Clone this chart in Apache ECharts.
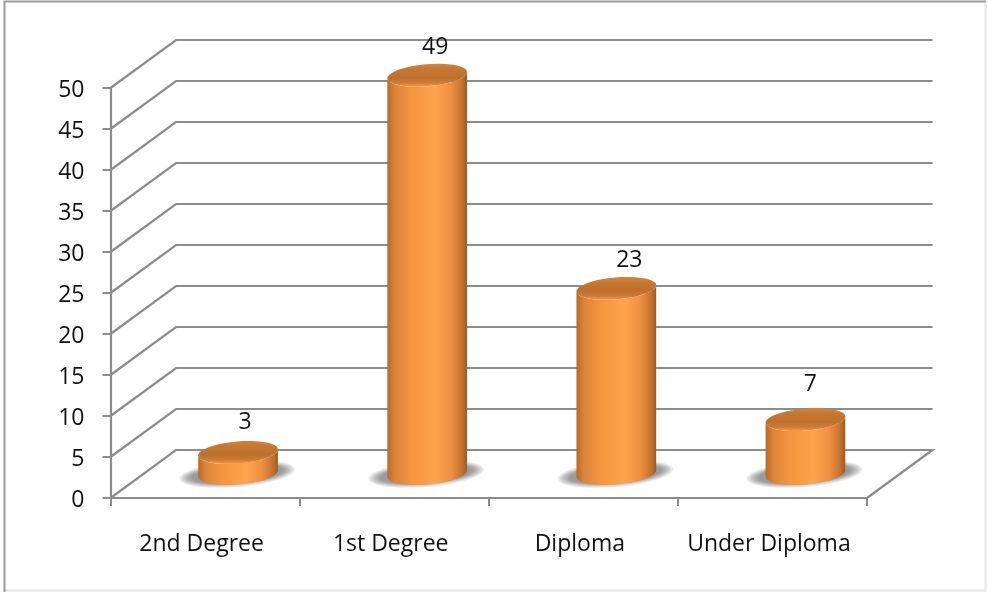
<!DOCTYPE html>
<html><head><meta charset="utf-8">
<style>html,body{margin:0;padding:0;background:#fff}#c{width:988px;height:592px}</style>
<script src="https://cdn.jsdelivr.net/npm/echarts@6/dist/echarts.min.js"></script>
</head><body><div id="c"></div>
<script>
const categories = ['2nd Degree', '1st Degree', 'Diploma', 'Under Diploma'];
const values = [3, 49, 23, 7];
const yTicks = [0, 5, 10, 15, 20, 25, 30, 35, 40, 45, 50];

// look of the pseudo-3D box and the cylinders
const DEPTH = { dx: 65.5, dy: -48 };
const BAR = { dx: 33, topDy: -21, baseDy: -24.5, rx: 40, ry: 11, tilt: 0.085 };
const labelNudge = [[7, -30], [8, -28], [13, -28], [5, -35]];
const SHADOW_RINGS = [[58, 13], [56, 12], [54, 11], [52, 10.5], [50, 10], [48, 9.5], [46, 9]];
const FONT = '"Open Sans", sans-serif';
const GRID = '#8c8c8c';

function wallItem(params, api) {
  const cs = params.coordSys;
  const v = api.value(1);
  const y = api.coord([0, v])[1];
  const x0 = cs.x, x1 = cs.x + cs.width;
  const pts = [[x0, y], [x0 + DEPTH.dx, y + DEPTH.dy], [x1 + DEPTH.dx, y + DEPTH.dy]];
  if (v === 0) pts.push([x1, y]);
  return { type: 'polyline', shape: { points: pts },
    style: { fill: null, stroke: GRID, lineWidth: 2.2 } };
}

function tiltedArc(cx, cy, from, to, rx, ry) {
  const out = [], n = 48;
  for (let i = 0; i <= n; i++) {
    const a = from + (to - from) * i / n;
    const ex = rx * Math.cos(a), ey = ry * Math.sin(a);
    out.push([cx + ex * Math.cos(BAR.tilt) + ey * Math.sin(BAR.tilt),
              cy - ex * Math.sin(BAR.tilt) + ey * Math.cos(BAR.tilt)]);
  }
  return out;
}
function lin(vertical, stops) {
  return { type: 'linear', x: 0, y: 0, x2: vertical ? 0 : 1, y2: vertical ? 1 : 0,
    colorStops: stops.map(s => ({ offset: s[0], color: s[1] })) };
}

function cylinderItem(params, api) {
  const i = api.value(0), v = api.value(1);
  const base = api.coord([i, 0]), top = api.coord([i, v]);
  const cx = base[0] + BAR.dx, yb = base[1] + BAR.baseDy, yt = top[1] + BAR.topDy;
  const nudge = labelNudge[i];
  const body = tiltedArc(cx, yb, 0, Math.PI, BAR.rx, BAR.ry).concat(tiltedArc(cx, yt, Math.PI, 0, BAR.rx, BAR.ry));
  const shadows = SHADOW_RINGS.map(r => ({
    type: 'polygon', shape: { points: tiltedArc(cx - 1, yb + 0.5, 0, Math.PI * 2, r[0], r[1]) },
    style: { fill: 'rgba(90,90,90,0.12)' } }));
  return { type: 'group', children: shadows.concat([
    { type: 'polygon', shape: { points: body },
      style: { fill: lin(false, [[0, '#b8692a'], [0.1, '#dd853a'], [0.3, '#f4953f'], [0.6, '#ffa34d'], [0.8, '#ef9040'], [0.93, '#c47431'], [1, '#9f5a22']]) } },
    { type: 'polygon', shape: { points: tiltedArc(cx, yt, 0, Math.PI * 2, BAR.rx, BAR.ry) },
      style: { fill: lin(true, [[0, '#d28340'], [0.25, '#c67730'], [0.6, '#bd6f2c'], [0.84, '#cf7d35'], [1, '#f59c4c']]) } },
    { type: 'text', x: cx + nudge[0], y: yt + nudge[1],
      style: { text: String(v), font: '23px ' + FONT, fill: '#111', align: 'center', verticalAlign: 'middle' } }
  ]) };
}

const chart = echarts.init(document.getElementById('c'), null, { renderer: 'canvas' });
chart.setOption({
  animation: false,
  backgroundColor: '#fff',
  graphic: [
    { type: 'polyline', silent: true, z: -1, shape: { points: [[985.5, 1.5], [985.5, 590.5], [4.5, 590.5]] },
      style: { fill: null, stroke: '#e6e6e6', lineWidth: 2 } },
    { type: 'polyline', silent: true, z: -1, shape: { points: [[4.5, 592], [4.5, 1.5], [986, 1.5]] },
      style: { fill: null, stroke: '#9b9b9b', lineWidth: 2 } }
  ],
  grid: { left: 110.5, top: 88, width: 756.5, height: 410, containLabel: false },
  xAxis: { type: 'category', data: categories, boundaryGap: true,
    axisLine: { lineStyle: { color: GRID, width: 2.2 } },
    axisTick: { show: true, alignWithLabel: false, length: 8, lineStyle: { color: GRID, width: 2 } },
    axisLabel: { color: '#111', fontFamily: FONT, fontSize: 23, margin: 35, interval: 0, padding: [0, 7, 0, 0] } },
  yAxis: { type: 'value', min: 0, max: 50, interval: 5,
    axisLine: { show: true, lineStyle: { color: GRID, width: 2.2 } },
    axisTick: { show: true, length: 8, lineStyle: { color: GRID, width: 2 } },
    splitLine: { show: false },
    axisLabel: { color: '#111', fontFamily: FONT, fontSize: 23, margin: 26, verticalAlign: 'top', lineHeight: 4 } },
  series: [
    { type: 'custom', z: 1, silent: true, renderItem: wallItem, data: yTicks.map(t => [0, t]), encode: { x: 0, y: 1 } },
    { type: 'custom', z: 3, silent: true, renderItem: cylinderItem, data: values.map((v, i) => [i, v]), encode: { x: 0, y: 1 } }
  ]
});
</script></body></html>
